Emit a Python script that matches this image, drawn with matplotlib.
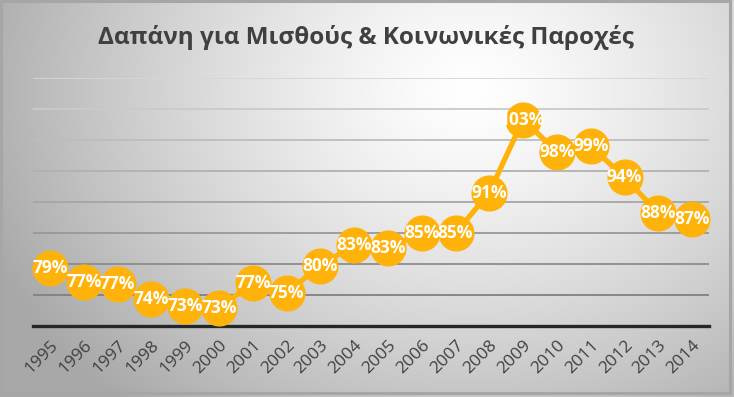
import numpy as np
import matplotlib
matplotlib.use("Agg")
import matplotlib.pyplot as plt

plt.rcParams['font.family'] = ['Open Sans', 'DejaVu Sans']

title = "Δαπάνη για Μισθούς & Κοινωνικές Παροχές"
years = ["1995", "1996", "1997", "1998", "1999", "2000", "2001", "2002", "2003", "2004",
         "2005", "2006", "2007", "2008", "2009", "2010", "2011", "2012", "2013", "2014"]
values = [79.4, 77.1, 76.7, 74.4, 73.3, 72.9, 76.9, 75.4, 79.7, 83.1,
          82.6, 85.0, 85.0, 91.5, 103.3, 98.1, 99.0, 94.0, 88.2, 87.2]
labels = ["79%", "77%", "77%", "74%", "73%", "73%", "77%", "75%", "80%", "83%",
          "83%", "85%", "85%", "91%", "103%", "98%", "99%", "94%", "88%", "87%"]
y_ticks = [70, 75, 80, 85, 90, 95, 100, 105, 110]

W, H = 734, 397
fig = plt.figure(figsize=(W / 100, H / 100), dpi=100)

# background radial gradient
bg = fig.add_axes([0, 0, 1, 1], zorder=0)
yy, xx = np.mgrid[0:H, 0:W]
cx, cy = 470, 90
d = np.sqrt(((xx - cx) / 520.0) ** 2 + ((yy - cy) / 420.0) ** 2)
d = np.clip(d, 0, 1)
lum = 1.0 - 0.34 * d ** 1.3
img = np.dstack([lum, lum, lum])
bg.imshow(img, extent=[0, W, H, 0], aspect='auto', interpolation='bilinear')
bg.set_xlim(0, W)
bg.set_ylim(H, 0)
bg.axis('off')
bg.add_patch(plt.Rectangle((0.5, 0.5), W - 5, H - 4.5, fill=False,
                           edgecolor='#a6a6a6', linewidth=2.2))

ax = fig.add_axes([33 / W, 1 - 326 / H, (709 - 33) / W, (326 - 78) / H], zorder=1)
ax.patch.set_alpha(0)
x = np.arange(len(years))
ax.set_xlim(-0.5, len(years) - 0.5)
ax.set_ylim(y_ticks[0], y_ticks[-1])

grid_cols = np.linspace(0.50, 0.84, len(y_ticks) - 1)
for yt, c in zip(y_ticks[1:], grid_cols):
    ax.axhline(yt, color=str(c), linewidth=1.3, zorder=1)

for s in ['top', 'right', 'left']:
    ax.spines[s].set_visible(False)
ax.spines['bottom'].set_color('#262626')
ax.spines['bottom'].set_linewidth(2.4)
ax.set_yticks([])
ax.set_xticks(x)
ax.set_xticklabels(years, rotation=45, ha='right', rotation_mode='anchor',
                   fontsize=12.5, color='#404040')
ax.tick_params(axis='x', length=0, pad=8)

ax.plot(x, values, color='#FFB20A', linewidth=3.8, marker='o', markersize=25,
        markerfacecolor='#FFB20A', markeredgecolor='#FFB20A', zorder=3, clip_on=False)
for xi, v, lab in zip(x, values, labels):
    ax.text(xi, v, lab, ha='center', va='center', color='white', fontsize=12.5,
            fontweight='bold', zorder=4)

fig.text(366 / W, 1 - 38 / H, title, ha='center', va='center', fontsize=17.5,
         fontweight='bold', color='#404040')

fig.savefig('out.png', dpi=100)
